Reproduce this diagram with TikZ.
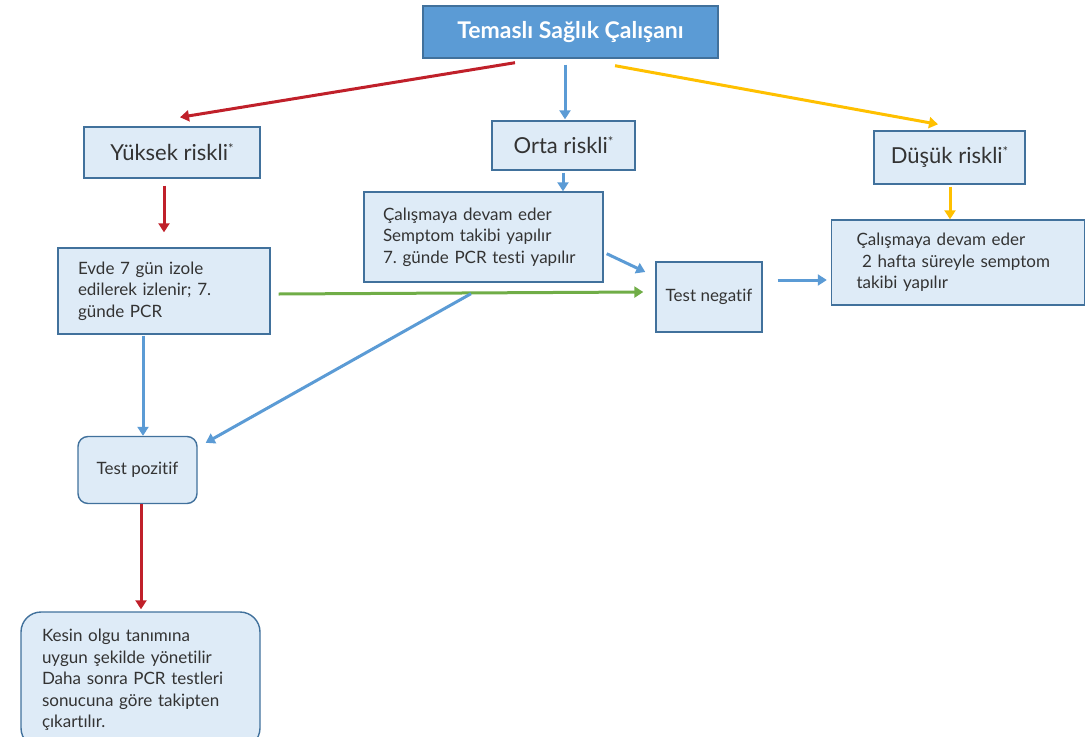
\documentclass[tikz,border=0pt]{standalone}
\usepackage{fontspec}
\setmainfont{Lato}[Ligatures=NoCommon]
\usetikzlibrary{arrows.meta,positioning}
\definecolor{boxfill}{HTML}{DEEBF7}
\definecolor{boxline}{HTML}{41719C}
\definecolor{titlefill}{HTML}{5B9BD5}
\definecolor{arrred}{HTML}{C0202A}
\definecolor{arrblue}{HTML}{5B9BD5}
\definecolor{arryellow}{HTML}{FFC000}
\definecolor{arrgreen}{HTML}{70AD47}
\newcommand{\riskstar}{\raisebox{7pt}{\fontsize{13}{13}\selectfont*}}
\frenchspacing

\begin{document}
\begin{tikzpicture}[x=1pt,y=-1pt,
	box node/.style={draw=boxline,fill=boxfill,line width=1.4pt,text=black!80,inner sep=0pt},
	big text/.style={font=\fontsize{22}{26}\selectfont},
	small text/.style={font=\fontsize{17}{21.5}\selectfont,align=left},
	arr/.style={line width=3pt,-{Triangle[length=9pt,width=11pt]}}]
	\useasboundingbox (0,0) rectangle (1086,736);
	
	\node[box node,fill=titlefill,text=white,minimum width=295,minimum height=52,
	font=\fontsize{23}{26}\selectfont\bfseries] (top) at (570.5,32) {Temaslı Sağlık Çalışanı};
	
	\node[box node,big text,minimum width=176,minimum height=51] (high) at (172,152.5) {Yüksek riskli\riskstar};
	\node[box node,big text,minimum width=143,minimum height=49] (mid) at (563.5,145.5) {Orta riskli\riskstar};
	\node[box node,big text,minimum width=151,minimum height=53] (low) at (949.5,157.5) {Düşük riskli\riskstar};
	
	\node[box node,small text,text width=201,inner xsep=19,minimum height=90] (midtxt) at (483.5,237)
	{Çalışmaya devam eder\\Semptom takibi yapılır\\7. günde PCR testi yapılır};
	\node[box node,small text,text width=172,inner xsep=20,minimum height=86] (home) at (164,291)
	{Evde 7 gün izole\\edilerek izlenir; 7.\\günde PCR};
	\node[box node,small text,align=center,minimum width=106,minimum height=70] (neg) at (709,297) {Test negatif};
	\node[box node,small text,text width=203,inner xsep=25,minimum height=85] (lowtxt) at (958,262.5)
	{Çalışmaya devam eder\\\ 2 hafta süreyle semptom\\takibi yapılır};
	\node[box node,small text,align=center,rounded corners=10,minimum width=119,minimum height=67] (pos) at (137.5,470) {Test pozitif};
	\node[box node,small text,text width=197,inner xsep=21,rounded corners=20,minimum height=136] (final) at (140.5,680)
	{Kesin olgu tanımına\\uygun şekilde yönetilir\\Daha sonra PCR testleri\\sonucuna göre takipten\\çıkartılır.};
	
	\draw[arr,arrred] ([shift={(-55.5,4)}]top.south) to ([shift={(8,-9)}]high.north);
	\draw[arr,arrblue] ([shift={(-5.5,6)}]top.south) to ([shift={(1.5,-1)}]mid.north);
	\draw[arr,arryellow] ([shift={(44.5,7)}]top.south) to ([shift={(-11.5,-6)}]low.north);
	
	\draw[arr,arrred] ([shift={(-8,7)}]high.south) to ([shift={(0,-15)}]home.north);
	\draw[arr,arrblue] ([shift={(-0.5,2)}]mid.south) to ([shift={(-0.5,0)}]mid.south |- midtxt.north);
	\draw[arr,arryellow] ([shift={(0.5,2)}]low.south) to ([shift={(0.5,0)}]low.south |- lowtxt.north);
	
	\draw[arr,arrblue] ([shift={(3,-29)}]midtxt.south east) to ([shift={(-10,-25)}]neg.west);
	\draw[arr,arrgreen] ([shift={(8,3)}]home.east) to ([shift={(-12,-5)}]neg.west);
	\draw[arr,arrblue] ([shift={(-12.5,11)}]midtxt.south) to ([shift={(8,7)}]pos.north east);
	\draw[arr,arrblue] ([shift={(15,-17)}]neg.east) to ([shift={(-4,17.5)}]lowtxt.west);
	
	\draw[arr,arrblue] ([shift={(-21,1)}]home.south) to ([shift={(-21,0)}]home.south |- pos.north);
	\draw[arr,arrred] ([shift={(3.5,0)}]pos.south) to ([shift={(3.5,-2)}]pos.south |- final.north);
\end{tikzpicture}
\end{document}
